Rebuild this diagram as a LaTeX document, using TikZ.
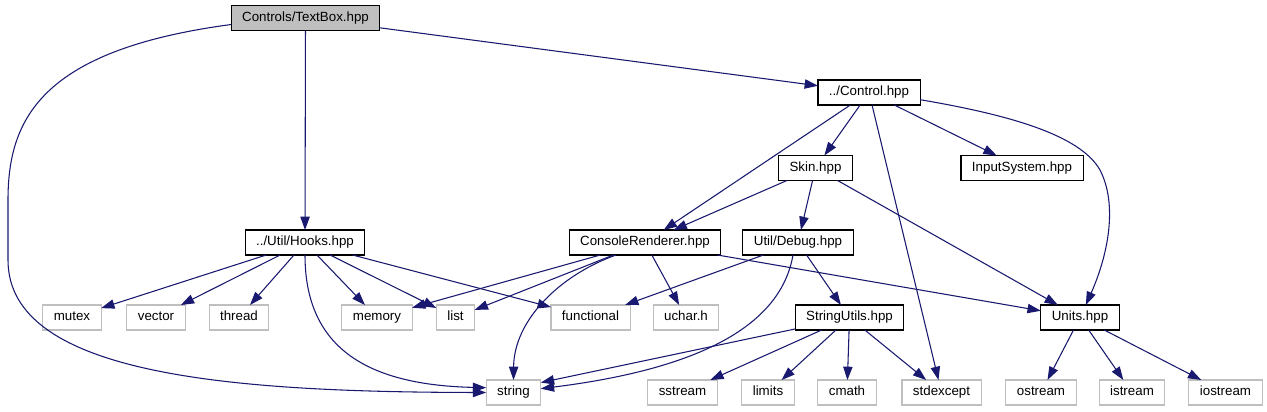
\documentclass[tikz,border=0pt]{standalone}
\usepackage{fontspec}
\setmainfont{Liberation Sans}
\usepackage{xcolor}
\definecolor{colEdge}{HTML}{191970}
\definecolor{colSys}{HTML}{BFBFBF}
\colorlet{colCur}{colSys}
\usetikzlibrary{arrows.meta, calc}

\begin{document}
\begin{tikzpicture}[x=0.75pt, y=-0.75pt,
		hdr/.style={draw=black, line width=0.8pt, minimum height=18.75pt, inner xsep=8.25pt, inner ysep=0pt, outer sep=0pt, text height=7.2pt, text depth=2.1pt, font=\fontsize{10}{12}\selectfont},
		sys/.style={hdr, draw=colSys},
		dep/.style={colEdge, line width=0.8pt, -{Triangle[length=10pt, width=7pt]}}]
	\useasboundingbox[fill=white] (0,0) rectangle (1267,411);
	\node[hdr, fill=colCur] (textbox) at (305.5,18) {Controls/TextBox.hpp};
	\node[hdr] (control) at (869,92.5) {../Control.hpp};
	\node[hdr] (skin) at (815.5,168) {Skin.hpp};
	\node[hdr] (input) at (1022,168) {InputSystem.hpp};
	\node[hdr] (hooks) at (305,242.5) {../Util/Hooks.hpp};
	\node[hdr] (renderer) at (645,242.5) {ConsoleRenderer.hpp};
	\node[hdr] (debug) at (798,242.5) {Util/Debug.hpp};
	\node[hdr] (strutils) at (849.5,317.5) {StringUtils.hpp};
	\node[hdr] (units) at (1080,317.5) {Units.hpp};
	\node[sys] (mutex) at (72,317.5) {mutex};
	\node[sys] (vector) at (156,317.5) {vector};
	\node[sys] (thread) at (239,317.5) {thread};
	\node[sys] (memory) at (377,317.5) {memory};
	\node[sys] (list) at (455.5,317.5) {list};
	\node[sys] (functional) at (590.5,317.5) {functional};
	\node[sys] (uchar) at (686,317.5) {uchar.h};
	\node[sys] (string) at (513.5,392.5) {string};
	\node[sys] (sstream) at (682.5,392.5) {sstream};
	\node[sys] (limits) at (768,392.5) {limits};
	\node[sys] (cmath) at (847,392.5) {cmath};
	\node[sys] (stdexcept) at (941.5,392.5) {stdexcept};
	\node[sys] (ostream) at (1041,392.5) {ostream};
	\node[sys] (istream) at (1132,392.5) {istream};
	\node[sys] (iostream) at (1225.5,392.5) {iostream};

	\draw[dep] (textbox) -- (control);
	\draw[dep] (textbox) -- (hooks);
	\draw[dep] (textbox.185) .. controls (40,50) and (8,120) .. (8,200) -- (8,260) .. controls (8,375) and (230,392) .. (string.west);
	\draw[dep] (control) -- (renderer);
	\draw[dep] (control) -- (skin);
	\draw[dep] (control) -- (stdexcept);
	\draw[dep] (control) -- (input);
	\draw[dep] (control.-8) .. controls (1010,115) and (1080,135) .. (1100,170) .. controls (1118,205) and (1108,255) .. (units.65);
	\draw[dep] (skin) -- (renderer);
	\draw[dep] (skin) -- (debug);
	\draw[dep] (skin) -- (units);
	\draw[dep] (hooks) -- (mutex);
	\draw[dep] (hooks) -- (vector);
	\draw[dep] (hooks) -- (thread);
	\draw[dep] (hooks.south) .. controls (305,350) and (370,385) .. (string.170);
	\draw[dep] (hooks) -- (memory);
	\draw[dep] (hooks) -- (list);
	\draw[dep] (hooks) -- (functional);
	\draw[dep] (renderer) -- (memory);
	\draw[dep] (renderer) -- (list);
	\draw[dep] ($(renderer.south)+(-29,0)$) .. controls (560,275) and (514,320) .. (string.north);
	\draw[dep] (renderer) -- (uchar);
	\draw[dep] (renderer) -- (units);
	\draw[dep] (debug) -- (functional);
	\draw[dep] ($(debug.south)+(-5,0)$) .. controls (780,330) and (690,370) .. (string.8);
	\draw[dep] (debug) -- (strutils);
	\draw[dep] (strutils) -- (string.20);
	\draw[dep] (strutils) -- (sstream);
	\draw[dep] (strutils) -- (limits);
	\draw[dep] (strutils) -- (cmath);
	\draw[dep] (strutils) -- (stdexcept);
	\draw[dep] (units) -- (ostream);
	\draw[dep] (units) -- (istream);
	\draw[dep] (units) -- (iostream);
\end{tikzpicture}
\end{document}
